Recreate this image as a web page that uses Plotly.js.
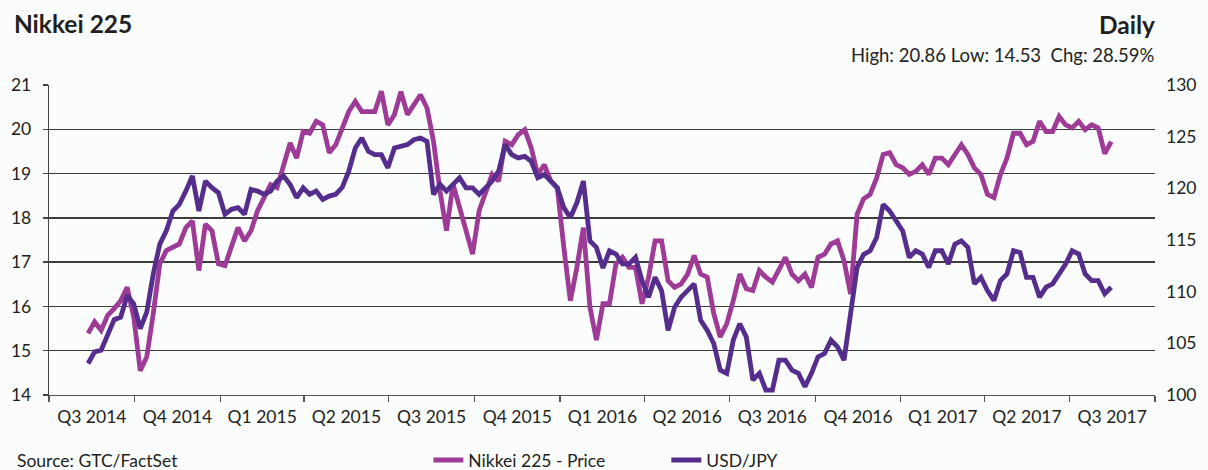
<!DOCTYPE html>
<html>
<head>
<meta charset="utf-8">
<script src="https://cdn.plot.ly/plotly-3.0.1.min.js"></script>
<style>
  html, body { margin: 0; padding: 0; background: #fbfcfc; }
  #chart { width: 1208px; height: 470px; }
</style>
</head>
<body>
<div id="chart"></div>
<script>
// Weekly observations, first week ending 2014-08-12
const startDate = '2014-08-12';
const quarterLabelFormat = 'Q%q %Y';

// Nikkei 225 (thousands) - left axis
const nikkeiPrice = [
  15.39, 15.65, 15.46, 15.80, 15.95, 16.13, 16.43, 15.76, 14.55, 14.86,
  15.84, 16.96, 17.26, 17.33, 17.41, 17.78, 17.93, 16.81, 17.86, 17.71,
  16.96, 16.92, 17.33, 17.78, 17.48, 17.71, 18.16, 18.46, 18.75, 18.68,
  19.20, 19.69, 19.35, 19.95, 19.91, 20.18, 20.10, 19.47, 19.65, 20.00,
  20.40, 20.63, 20.40, 20.40, 20.40, 20.86, 20.10, 20.33, 20.85, 20.33,
  20.55, 20.78, 20.48, 19.73, 18.60, 17.71, 18.76, 18.23, 17.63, 17.18,
  18.16, 18.60, 18.98, 18.83, 19.73, 19.65, 19.88, 19.99, 19.58, 18.98,
  19.20, 18.83, 18.68, 17.33, 16.13, 16.88, 17.78, 15.99, 15.24, 16.06,
  16.06, 16.96, 17.11, 16.88, 16.88, 16.06, 16.66, 17.48, 17.48, 16.58,
  16.43, 16.51, 16.73, 17.15, 16.73, 16.66, 15.84, 15.31, 15.61, 16.13,
  16.73, 16.40, 16.36, 16.81, 16.66, 16.55, 16.81, 17.11, 16.73, 16.58,
  16.73, 16.43, 17.11, 17.18, 17.41, 17.48, 17.03, 16.28, 18.08, 18.43,
  18.53, 18.90, 19.43, 19.47, 19.20, 19.13, 18.98, 19.05, 19.20, 18.98,
  19.35, 19.35, 19.20, 19.43, 19.65, 19.43, 19.13, 18.98, 18.53, 18.46,
  18.98, 19.35, 19.91, 19.91, 19.65, 19.73, 20.18, 19.95, 19.95, 20.29,
  20.10, 20.03, 20.18, 19.99, 20.10, 20.03, 19.45, 19.72
];

// USD/JPY - right axis
const usdJpy = [
  103.05, 104.17, 104.33, 105.78, 107.29, 107.54, 109.63, 108.83, 106.42, 108.02,
  111.71, 114.60, 115.88, 117.81, 118.45, 119.73, 121.20, 117.81, 120.70, 120.06,
  119.57, 117.49, 117.97, 118.13, 117.49, 119.89, 119.73, 119.41, 119.73, 120.70,
  121.18, 120.38, 119.09, 120.05, 119.41, 119.73, 118.93, 119.25, 119.41, 120.10,
  121.66, 123.90, 124.87, 123.58, 123.26, 123.26, 121.98, 123.90, 124.07, 124.23,
  124.70, 124.87, 124.55, 119.41, 120.38, 119.73, 120.38, 121.02, 120.05, 120.05,
  119.41, 120.05, 120.70, 121.66, 124.23, 123.26, 122.94, 123.10, 122.62, 121.02,
  121.34, 120.70, 120.05, 118.13, 117.17, 118.60, 120.70, 114.92, 114.28, 112.30,
  113.96, 113.64, 112.68, 112.68, 113.32, 111.07, 109.47, 111.39, 110.10, 106.26,
  108.50, 109.47, 110.10, 110.75, 107.22, 106.26, 104.98, 102.41, 102.09, 105.30,
  106.90, 105.62, 101.45, 102.09, 100.48, 100.48, 103.37, 103.37, 102.41, 102.09,
  100.80, 102.09, 103.69, 104.01, 105.30, 104.65, 103.37, 107.86, 112.35, 113.60,
  113.96, 115.24, 118.45, 117.81, 116.85, 115.88, 113.32, 113.96, 113.64, 112.35,
  113.96, 113.96, 112.68, 114.60, 114.92, 114.28, 110.75, 111.39, 110.10, 109.15,
  111.07, 111.71, 113.96, 113.80, 111.39, 111.39, 109.47, 110.43, 110.75, 111.71,
  112.68, 113.96, 113.64, 111.71, 111.07, 111.07, 109.80, 110.43
];

const seriesNames = ['Nikkei 225 - Price', 'USD/JPY'];
const statsText = 'High: 20.86 Low: 14.53&nbsp;&nbsp;Chg: 28.59%';

// build weekly date axis values
const t0 = Date.parse(startDate + 'T00:00:00Z');
const dates = nikkeiPrice.map((_, i) => new Date(t0 + i * 7 * 86400000).toISOString().slice(0, 10));

const FONT = 'Lato, "Open Sans", sans-serif';
const TXT = '#231f20';
const FS = 17.5;

const traces = [
  {
    x: dates, y: usdJpy, name: seriesNames[1], yaxis: 'y2', type: 'scatter', mode: 'lines',
    line: { color: '#552d8c', width: 4.8 }, legendrank: 2
  },
  {
    x: dates, y: nikkeiPrice, name: seriesNames[0], yaxis: 'y', type: 'scatter', mode: 'lines',
    line: { color: '#9e3b97', width: 4.8 }, legendrank: 1
  }
];

const layout = {
  width: 1208, height: 470,
  margin: { l: 49, r: 53, t: 85, b: 75, autoexpand: false },
  paper_bgcolor: '#fbfcfc',
  plot_bgcolor: 'rgba(0,0,0,0)',
  font: { family: FONT, size: FS, color: TXT },
  title: {
    text: '<b>Nikkei 225</b>', font: { family: FONT, size: 24.5, color: TXT },
    xref: 'container', x: 0.0115, xanchor: 'left', yref: 'container', y: 0.948, yanchor: 'middle'
  },
  showlegend: true,
  legend: {
    orientation: 'h', x: 0.343, xanchor: 'left', y: -0.21, yanchor: 'middle',
    font: { family: FONT, size: FS, color: TXT }, bgcolor: 'rgba(0,0,0,0)',
    traceorder: 'normal', entrywidth: 193, itemwidth: 30
  },
  xaxis: {
    type: 'date', range: ['2014-07-01', '2017-10-01'],
    tick0: '2014-07-01', dtick: 'M3', ticklabelmode: 'period', tickformat: quarterLabelFormat,
    ticks: 'outside', ticklen: 6, tickcolor: '#555', tickwidth: 1.3,
    showline: true, linecolor: '#555', linewidth: 1.3,
    showgrid: false, zeroline: false,
    tickfont: { family: FONT, size: FS, color: TXT }
  },
  yaxis: {
    range: [14, 21], dtick: 1, tick0: 14,
    ticks: 'outside', ticklen: 5, tickcolor: '#444', tickwidth: 1.3,
    showline: true, linecolor: '#444', linewidth: 1.3,
    showgrid: true, gridcolor: '#3c3c3c', gridwidth: 1.4, zeroline: false,
    tickfont: { family: FONT, size: FS, color: TXT }, ticklabelstandoff: 8
  },
  yaxis2: {
    range: [100, 130], dtick: 5, tick0: 100, overlaying: 'y', side: 'right',
    showgrid: false, zeroline: false, showline: false, ticks: '',
    tickfont: { family: FONT, size: FS, color: TXT }, ticklabelstandoff: 10
  },
  annotations: [
    { text: '<b>Daily</b>', xref: 'paper', yref: 'paper', x: 1.002, y: 1.194, xanchor: 'right', yanchor: 'middle',
      showarrow: false, font: { family: FONT, size: 24.5, color: TXT } },
    { text: statsText, xref: 'paper', yref: 'paper', x: 1.002, y: 1.097, xanchor: 'right', yanchor: 'middle',
      showarrow: false, font: { family: FONT, size: 18.5, color: TXT } },
    { text: 'Source: GTC/FactSet', xref: 'paper', yref: 'paper', x: -0.031, y: -0.21, xanchor: 'left', yanchor: 'middle',
      showarrow: false, font: { family: FONT, size: FS, color: TXT } }
  ]
};

Plotly.newPlot('chart', traces, layout, { displayModeBar: false, staticPlot: true });
</script>
</body>
</html>
